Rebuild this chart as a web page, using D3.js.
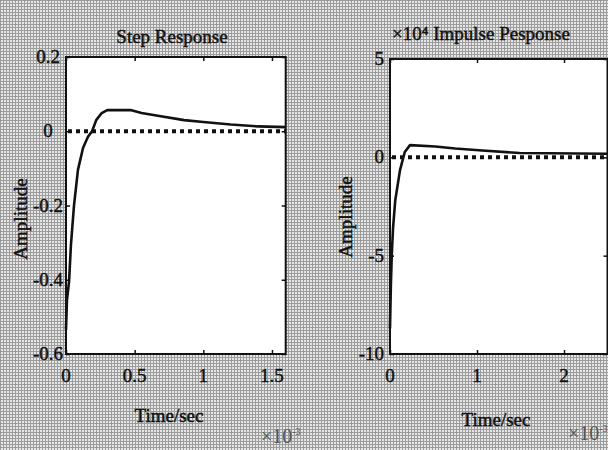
<!DOCTYPE html>
<html>
<head>
<meta charset="utf-8">
<script src="https://cdn.jsdelivr.net/npm/d3@7"></script>
<style>
  body { margin: 0; }
  text { font-family: "Liberation Serif", "DejaVu Serif", serif; fill: #111; stroke: #111; stroke-width: 0.45; }
</style>
</head>
<body>
<div id="chart"></div>
<script>
// step response (time in ms, i.e. x10^-3 s)
const stepT = [0, 0.007, 0.022, 0.036, 0.058, 0.087, 0.124, 0.16, 0.19, 0.22, 0.26, 0.3, 0.47, 0.55, 0.68, 0.86, 1.0, 1.2, 1.4, 1.6];
const stepY = [-0.535, -0.455, -0.406, -0.306, -0.201, -0.104, -0.045, -0.015, 0, 0.03, 0.049, 0.057, 0.057, 0.049, 0.041, 0.03, 0.025, 0.018, 0.013, 0.011];
const stepXTicks = [0, 0.5, 1, 1.5];
const stepXLabels = ["0", "0.5", "1", "1.5"];
const stepYTicks = [0.2, 0, -0.2, -0.4, -0.6];
const stepYLabels = ["0.2", "0", "-0.2", "-0.4", "-0.6"];

// impulse response (amplitude x10^4)
const impT = [0, 0.01, 0.02, 0.035, 0.06, 0.115, 0.17, 0.23, 0.52, 0.75, 1.06, 1.49, 2.5];
const impY = [-8.7, -6.5, -5.0, -3.6, -2.2, -0.65, 0.27, 0.62, 0.55, 0.45, 0.35, 0.22, 0.18];
const impXTicks = [0, 1, 2];
const impXLabels = ["0", "1", "2"];
const impYTicks = [5, 0, -5, -10];
const impYLabels = ["5", "0", "-5", "-10"];

const width = 608, height = 450;

const svg = d3.select("#chart")
    .append("svg")
    .attr("width", width)
    .attr("height", height);

// hatched scan-like background
const defs = svg.append("defs");
const pat = defs.append("pattern")
    .attr("id", "hatch")
    .attr("width", 3).attr("height", 3)
    .attr("patternUnits", "userSpaceOnUse");
pat.append("rect").attr("width", 3).attr("height", 3).attr("fill", "#e6e6e6");
pat.append("rect").attr("width", 1).attr("height", 3).attr("fill", "#9c9c9c");
pat.append("rect").attr("width", 3).attr("height", 1).attr("fill", "#9c9c9c");

svg.append("rect")
    .attr("width", width).attr("height", height)
    .attr("fill", "url(#hatch)");

function panel(cfg) {
    const x = d3.scaleLinear().domain(cfg.xDomain).range([cfg.left, cfg.right]);
    const y = d3.scaleLinear().domain(cfg.yDomain).range([cfg.bottom, cfg.top]);
    const g = svg.append("g");

    g.append("rect")
        .attr("x", cfg.left).attr("y", cfg.top)
        .attr("width", cfg.right - cfg.left).attr("height", cfg.bottom - cfg.top)
        .attr("fill", "#fff");

    // zero reference line
    g.append("line")
        .attr("x1", cfg.left + 2).attr("x2", cfg.right)
        .attr("y1", y(0)).attr("y2", y(0))
        .attr("stroke", "#111")
        .attr("stroke-width", 4)
        .attr("stroke-dasharray", "4,4");

    const line = d3.line()
        .x((d, i) => x(cfg.t[i]))
        .y(d => y(d));
    g.append("path")
        .datum(cfg.v)
        .attr("d", line)
        .attr("fill", "none")
        .attr("stroke", "#111")
        .attr("stroke-width", 2.6)
        .attr("stroke-linejoin", "round");

    // axes with inward ticks
    g.append("g")
        .attr("transform", `translate(0,${cfg.bottom})`)
        .call(d3.axisTop(x).tickValues(cfg.xTicks).tickSize(4).tickFormat(""))
        .call(a => a.select(".domain").remove());
    g.append("g")
        .attr("transform", `translate(0,${cfg.top})`)
        .call(d3.axisBottom(x).tickValues(cfg.xTicks).tickSize(4).tickFormat(""))
        .call(a => a.select(".domain").remove());
    g.append("g")
        .attr("transform", `translate(${cfg.left},0)`)
        .call(d3.axisRight(y).tickValues(cfg.yTicks).tickSize(4).tickFormat(""))
        .call(a => a.select(".domain").remove());
    g.append("g")
        .attr("transform", `translate(${cfg.right},0)`)
        .call(d3.axisLeft(y).tickValues(cfg.yTicks).tickSize(4).tickFormat(""))
        .call(a => a.select(".domain").remove());
    g.selectAll(".tick line").attr("stroke", "#111").attr("stroke-width", 1.5);

    g.append("rect")
        .attr("x", cfg.left).attr("y", cfg.top)
        .attr("width", cfg.right - cfg.left).attr("height", cfg.bottom - cfg.top)
        .attr("fill", "none")
        .attr("stroke", "#111")
        .attr("stroke-width", 2);

    // tick labels
    g.selectAll(".xl")
        .data(cfg.xTicks)
        .join("text")
        .attr("x", d => x(d))
        .attr("y", cfg.bottom + 28)
        .attr("text-anchor", "middle")
        .style("font-size", "19px")
        .text((d, i) => cfg.xLabels[i]);
    g.selectAll(".yl")
        .data(cfg.yTicks)
        .join("text")
        .attr("x", cfg.yLabelX)
        .attr("y", d => y(d) + 6)
        .attr("text-anchor", cfg.yAnchor)
        .style("font-size", "19px")
        .text((d, i) => cfg.yLabels[i]);

    g.append("text")
        .attr("x", cfg.titleX).attr("y", cfg.titleY)
        .attr("text-anchor", "middle")
        .style("font-size", "19px")
        .text(cfg.title);
    g.append("text")
        .attr("transform", `translate(${cfg.ylabX},${cfg.ylabY}) rotate(-90)`)
        .attr("text-anchor", "middle")
        .style("font-size", "19px")
        .text("Amplitude");
    g.append("text")
        .attr("x", cfg.xlabX).attr("y", cfg.xlabY)
        .attr("text-anchor", "middle")
        .style("font-size", "19px")
        .text("Time/sec");
    const ex = g.append("text")
        .attr("x", cfg.expX).attr("y", cfg.expY)
        .style("font-size", "20px")
        .style("fill", "#555").style("stroke", "none");
    ex.append("tspan").text("×10");
    ex.append("tspan").attr("dy", -8).style("font-size", "10px").text(cfg.exp);
}

panel({
    t: stepT, v: stepY,
    xDomain: [0, 1.6], yDomain: [-0.6, 0.2],
    left: 66, right: 285.7, top: 57, bottom: 354,
    xTicks: stepXTicks, xLabels: stepXLabels,
    yTicks: stepYTicks, yLabels: stepYLabels,
    yLabelX: 48, yAnchor: "middle",
    title: "Step Response", titleX: 172, titleY: 43,
    ylabX: 27, ylabY: 219,
    xlabX: 169, xlabY: 422,
    exp: "-3", expX: 261, expY: 443
});

panel({
    t: impT, v: impY,
    xDomain: [0, 2.5], yDomain: [-10, 5],
    left: 390, right: 607.5, top: 59, bottom: 354,
    xTicks: impXTicks, xLabels: impXLabels,
    yTicks: impYTicks, yLabels: impYLabels,
    yLabelX: 384, yAnchor: "end",
    title: "×10⁴ Impulse Pesponse", titleX: 481, titleY: 40,
    ylabX: 352, ylabY: 217,
    xlabX: 496, xlabY: 426,
    exp: "-3", expX: 568, expY: 440
});
</script>
</body>
</html>
